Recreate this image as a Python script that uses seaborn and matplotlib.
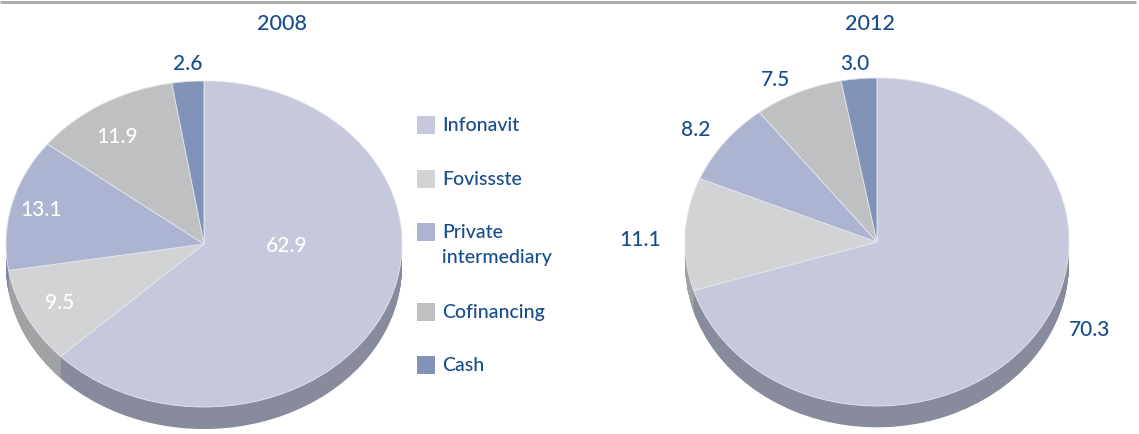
import matplotlib
matplotlib.use("Agg")
import matplotlib.pyplot as plt
import seaborn as sns
import numpy as np

# Housing finance by source, share of total (%)
categories = ["Infonavit", "Fovissste", "Private\nintermediary", "Cofinancing", "Cash"]
shares_2008 = [62.9, 9.5, 13.1, 11.9, 2.6]
shares_2012 = [70.3, 11.1, 8.2, 7.5, 3.0]
years = ["2008", "2012"]

top_colors = ["#c6c9dc", "#d2d3d5", "#adb4d1", "#bfc0c2", "#8293ba"]
side_colors = ["#878b9c", "#a1a2a4", "#7f86a4", "#9a9b9e", "#677696"]
text_blue = "#174d8c"

sns.set_theme(style="white")
plt.rcParams["font.family"] = ["Lato", "DejaVu Sans"]
plt.rcParams["font.weight"] = "medium"

W, H = 1139, 434
fig = plt.figure(figsize=(W / 100, H / 100), dpi=100)
fig.patch.set_facecolor("white")

# overlay in pixel coordinates for rule, titles and legend
ov = fig.add_axes([0, 0, 1, 1], zorder=0)
ov.set_xlim(0, W)
ov.set_ylim(H, 0)
ov.axis("off")


def pie_axes(cx, cy, rx, ry, xlo=-1.05, xhi=1.05, ylo=-1.3, yhi=1.05):
    left = (cx + xlo * rx) / W
    width = (xhi - xlo) * rx / W
    bottom = (H - (cy - ylo * ry)) / H
    height = (yhi - ylo) * ry / H
    ax = fig.add_axes([left, bottom, width, height], zorder=1)
    return ax, (xlo, xhi, ylo, yhi)


def draw_pie(ax, lims, values, depth, labels_xy, label_colors):
    # side wall: stacked darker copies shifted downward
    for t in np.linspace(depth, 0.0, 30):
        ax.pie(values, colors=side_colors, startangle=90, counterclock=False,
               radius=1, center=(0, -t), normalize=True,
               wedgeprops=dict(linewidth=0, antialiased=True))
    # top surface
    ax.pie(values, colors=top_colors, startangle=90, counterclock=False,
           radius=1, center=(0, 0), normalize=True,
           wedgeprops=dict(linewidth=0.6, edgecolor="#e6e7ee"))
    ax.set_aspect("auto")
    ax.set_xlim(lims[0], lims[1])
    ax.set_ylim(lims[2], lims[3])
    ax.axis("off")
    for v, (x, y), c in zip(values, labels_xy, label_colors):
        ax.text(x, y, f"{v:.1f}", ha="center", va="center", fontsize=15,
                color=c)


# 2008
ax1, lim1 = pie_axes(204, 244, 198, 163)
pos_2008 = [(0.42, -0.01), (-0.727, -0.362), (-0.823, 0.209), (-0.44, 0.656), (-0.081, 1.104)]
col_2008 = ["white", "white", "white", "white", text_blue]
draw_pie(ax1, lim1, shares_2008, 0.135, pos_2008, col_2008)

# 2012
ax2, lim2 = pie_axes(877, 242, 192, 164)
pos_2012 = [(1.109, -0.537), (-1.234, 0.012), (-0.943, 0.683), (-0.526, 0.988), (-0.115, 1.085)]
col_2012 = [text_blue] * 5
draw_pie(ax2, lim2, shares_2012, 0.13, pos_2012, col_2012)

# titles
ov.text(282, 24, years[0], ha="center", va="center", fontsize=15.5, color=text_blue)
ov.text(870, 24, years[1], ha="center", va="center", fontsize=15.5, color=text_blue)

# top rule
ov.plot([0, 1136], [2, 2], color="#a8a8a8", linewidth=2, solid_capstyle="butt")

# legend
legend_rows = [125, 179, 232, 312, 365]
for name, color, y in zip(categories, top_colors, legend_rows):
    ov.scatter([426], [y], marker="s", s=150, color=color, linewidths=0)
    ov.text(442, y - 8, name, ha="left", va="top", fontsize=14,
            color=text_blue, linespacing=1.55)

fig.savefig("out.png", dpi=100, facecolor="white")
